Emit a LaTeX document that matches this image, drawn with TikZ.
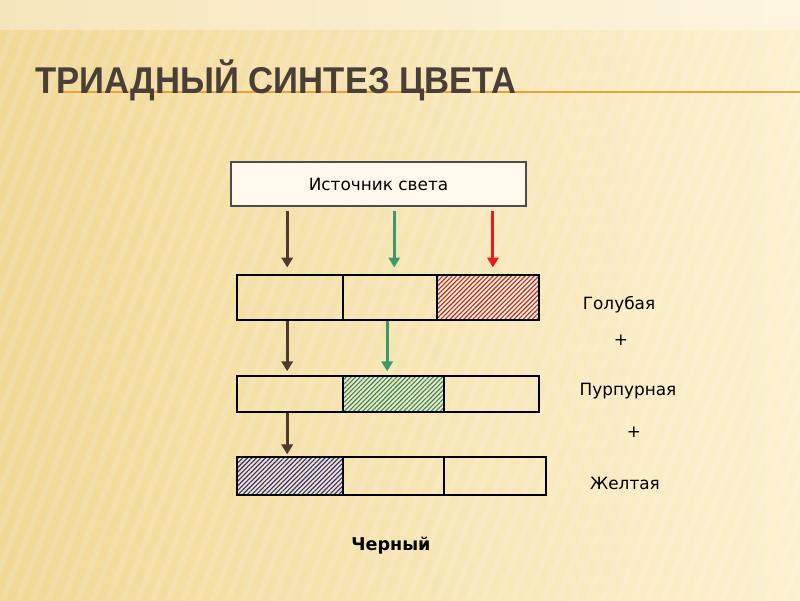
\documentclass[tikz,border=0pt]{standalone}
\usepackage{fontspec}
\setmainfont{DejaVu Sans}
\newfontfamily\titlefont{Liberation Sans}
\usetikzlibrary{fit,arrows.meta,patterns.meta}
\definecolor{bgdark}{HTML}{F1D896}
\definecolor{bglight}{HTML}{FCF1CF}
\definecolor{titlegray}{HTML}{4A3F36}
\definecolor{lineorange}{HTML}{E9A33A}
\definecolor{arrbrown}{HTML}{4D3B2F}
\definecolor{arrgreen}{HTML}{3A9A6A}
\definecolor{arrred}{HTML}{F01818}
\definecolor{hatchpink}{HTML}{F6C4CE}
\definecolor{hatchmaroon}{HTML}{A8304C}
\definecolor{hatchmint}{HTML}{C6EEDF}
\definecolor{hatchteal}{HTML}{2E8A70}
\definecolor{hatchlilac}{HTML}{C4C6F2}
\definecolor{hatchnavy}{HTML}{2C2F9C}
\tikzset{
  cellbox/.style={draw=black, line width=0.8pt, inner sep=0pt},
  srcbox/.style={draw=black!70, line width=0.8pt, inner sep=0pt, fill=bglight!40, font=\fontsize{12}{14}\selectfont},
  hatchred/.style={fill=hatchpink, pattern={Lines[angle=45,distance=2.3pt,line width=0.8pt]}, pattern color=hatchmaroon},
  hatchgreen/.style={fill=hatchmint, pattern={Lines[angle=45,distance=2.3pt,line width=0.8pt]}, pattern color=hatchteal},
  hatchblue/.style={fill=hatchlilac, pattern={Lines[angle=45,distance=2.3pt,line width=0.8pt]}, pattern color=hatchnavy},
  ray/.style={line width=2.2pt, -{Triangle[length=7pt,width=8pt]}},
  colname/.style={font=\fontsize{12}{14}\selectfont, text=black}
}
% cell: optional style, name, corners
\newcommand{\cell}[6][]{\node[cellbox, fit={(#3,#4) (#5,#6)}] (#2) {}; \ifx&#1&\else\fill[#1] (#3,#4) rectangle (#5,#6); \draw[line width=0.8pt] (#3,#4) rectangle (#5,#6);\fi}

\begin{document}
\begin{tikzpicture}[x=0.025cm, y=-0.025cm]
\useasboundingbox (0,0) rectangle (800,600);
% background
\shade[left color=bgdark, right color=bglight] (0,0) rectangle (800,600);
\fill[white, opacity=0.35] (0,0) rectangle (800,30);
\foreach \s in {-300,-285,...,800}
  \fill[white, opacity=0.13] (\s,600) -- (\s+6,600) -- (\s+226,30) -- (\s+220,30) -- cycle;
\draw[lineorange, line width=1pt] (60,92) -- (800,92);

% title
\node[anchor=base west, inner sep=0pt, text=titlegray, font=\titlefont\bfseries\fontsize{26.5}{30}\selectfont] (title) at (35,93) {\scalebox{0.93}[1]{ТРИАДНЫЙ СИНТЕЗ ЦВЕТА}};

% source
\node[srcbox, fit={(231,162) (526,206)}] (src) {};
\node[colname] (srctext) at (src.center) {Источник света};

% row1
\cell{a1}{237}{275}{343}{320}
\cell{b1}{343}{275}{437}{320}
\cell[hatchred]{c1}{437}{275}{539}{320}
% row2
\cell{a2}{237}{376}{343}{412}
\cell[hatchgreen]{b2}{343}{376}{444}{412}
\cell{c2}{444}{376}{539}{412}
% row3
\cell[hatchblue]{a3}{237}{457}{343}{495}
\cell{b3}{343}{457}{444}{495}
\cell{c3}{444}{457}{546}{495}

% rays
\draw[ray, arrbrown, shorten <=3.5pt, shorten >=5pt] ([xshift=-2pt]src.south -| a1) -- ([xshift=-2pt]a1.north);
\draw[ray, arrgreen, shorten <=3.5pt, shorten >=5pt] ([xshift=3pt]src.south -| b1) -- ([xshift=3pt]b1.north);
\draw[ray, arrred, shorten <=3.5pt, shorten >=5pt] ([xshift=3.5pt]src.south -| c1) -- ([xshift=3.5pt]c1.north);
\draw[ray, arrbrown, shorten >=3pt] ([xshift=-2pt]a1.south) -- ([xshift=-2pt]a2.north);
\draw[ray, arrgreen, shorten >=3pt] ([xshift=-2pt]b1.south) -- ([xshift=-2pt]b1.south |- b2.north);
\draw[ray, arrbrown, shorten >=1.5pt] ([xshift=-2pt]a2.south) -- ([xshift=-2pt]a3.north);

% names
\node[colname] (cyan) at (619,305) {Голубая};
\node[colname] (plus1) at (621,340) {+};
\node[colname] (magenta) at (628,391) {Пурпурная};
\node[colname] (plus2) at (634,432) {+};
\node[colname] (yellow) at (625,483) {Желтая};
\node[colname, font=\bfseries\fontsize{12.5}{14}\selectfont] (black) at (391,546) {Черный};
\end{tikzpicture}
\end{document}
